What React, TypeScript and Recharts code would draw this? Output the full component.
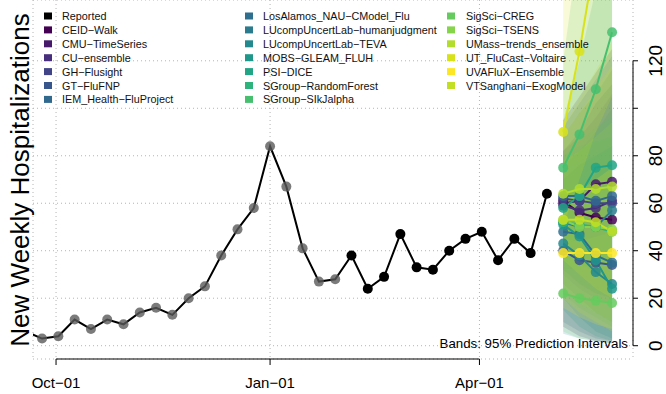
import React from "react";
import {
  ComposedChart,
  Line,
  Area,
  Scatter,
  XAxis,
  YAxis,
  CartesianGrid,
  ReferenceLine,
} from "recharts";

// reported weekly counts (first week sits left of the plot and is clipped)
const obsDates = [
  "2022-09-18", "2022-09-25", "2022-10-02", "2022-10-09", "2022-10-16", "2022-10-23",
  "2022-10-30", "2022-11-06", "2022-11-13", "2022-11-20", "2022-11-27", "2022-12-04",
  "2022-12-11", "2022-12-18", "2022-12-25", "2023-01-01", "2023-01-08", "2023-01-15",
  "2023-01-22", "2023-01-29", "2023-02-05", "2023-02-12", "2023-02-19", "2023-02-26",
  "2023-03-05", "2023-03-12", "2023-03-19", "2023-03-26", "2023-04-02", "2023-04-09",
  "2023-04-16", "2023-04-23", "2023-04-30",
];
const obsValues = [
  6, 3, 4, 11, 7, 11, 9, 14, 16, 13, 20, 25, 38, 49, 58, 84, 67, 41, 27, 28, 38, 24,
  29, 47, 33, 32, 40, 45, 48, 36, 45, 39, 64,
];
const firstBlack = 20; // earlier points are drawn grey

const forecastDates = ["2023-05-07", "2023-05-14", "2023-05-21", "2023-05-28"];

const models = [
  "CEID-Walk", "CMU-TimeSeries", "CU-ensemble", "GH-Flusight", "GT-FluFNP",
  "IEM_Health-FluProject", "LosAlamos_NAU-CModel_Flu", "LUcompUncertLab-humanjudgment",
  "LUcompUncertLab-TEVA", "MOBS-GLEAM_FLUH", "PSI-DICE", "SGroup-RandomForest",
  "SGroup-SIkJalpha", "SigSci-CREG", "SigSci-TSENS", "UMass-trends_ensemble",
  "UT_FluCast-Voltaire", "UVAFluX-Ensemble", "VTSanghani-ExogModel",
];
const modelColors = [
  "#440154", "#481a6c", "#472f7d", "#414487", "#39568c", "#31688e", "#2e6e8e",
  "#2a7b8e", "#23898e", "#1f978b", "#21a585", "#2eb37c", "#46c06f", "#65cb5e",
  "#85d44a", "#b2dd2c", "#d8e219", "#fde725", "#c2df23",
];
const medians = [
  [61, 56, 54, 53], [60, 61, 68, 69], [59, 57, 58, 61], [62, 61, 60, 60],
  [40, 36, 35, 34], [63, 63, 61, 63], [48, 47, 38, 35], [52, 50, 50, 57],
  [43, 38, 31, 26], [51, 46, 36, 24], [58, 63, 75, 76], [52, 51, 50, 48],
  [75, 89, 108, 132], [22, 20, 19, 18], [53, 50, 50, 49], [64, 66, 66, 67],
  [90, 124, 165, 205], [39, 39, 39, 39], [53, 53, 52, 48],
];
const lower95 = [
  [8, 4, 2, 1], [40, 36, 38, 36], [30, 24, 20, 18], [26, 20, 14, 10],
  [10, 6, 3, 2], [40, 35, 30, 26], [20, 12, 6, 3], [32, 26, 22, 20],
  [5, 3, 2, 1], [15, 8, 4, 2], [32, 32, 36, 34], [22, 16, 12, 8],
  [42, 46, 55, 65], [6, 3, 2, 1], [24, 18, 14, 10], [36, 30, 24, 20],
  [50, 70, 90, 105], [16, 12, 9, 7], [20, 14, 10, 6],
];
const upper95 = [
  [95, 105, 115, 125], [82, 90, 102, 110], [82, 88, 96, 106], [92, 102, 112, 122],
  [62, 66, 72, 78], [88, 98, 106, 116], [70, 76, 80, 84], [76, 82, 90, 100],
  [74, 78, 80, 84], [80, 84, 86, 88], [95, 120, 150, 175], [80, 86, 92, 96],
  [120, 170, 220, 280], [45, 44, 46, 48], [78, 82, 88, 94], [92, 104, 116, 128],
  [175, 260, 340, 420], [60, 65, 70, 75], [88, 98, 108, 118],
];

const xTickDates = ["2022-10-01", "2023-01-01", "2023-04-01"];
const xTickLabels = ["Oct\u221201", "Jan\u221201", "Apr\u221201"];
const yTicks = [0, 20, 40, 60, 80, 100, 120];
const yTickLabels = ["0", "20", "40", "60", "80", "", "120"];

const day = (s: string) => Date.parse(s + "T00:00:00Z") / 86400000;

const X_MIN = day("2022-10-01") - 9.9;
const X_MAX = day("2022-10-01") + 248;
const Y_MIN = -5.6;
const Y_MAX = 145.6;

const FONT = "'Liberation Sans', Arial, sans-serif";

const obsData = obsDates.map((d, i) => ({ x: day(d), y: obsValues[i] }));
const greyPts = obsData.slice(1, firstBlack);
const blackPts = obsData.slice(firstBlack);

function modelData(m: number) {
  return forecastDates.map((d, i) => ({
    x: day(d),
    y: medians[m][i],
    band: [lower95[m][i], upper95[m][i]],
  }));
}

const legendItems = [{ name: "Reported", color: "#000" }].concat(
  models.map((name, i) => ({ name, color: modelColors[i] }))
);
const legendCols = [
  { sq: 44, tx: 62, items: legendItems.slice(0, 7) },
  { sq: 245, tx: 263, items: legendItems.slice(7, 14) },
  { sq: 447, tx: 466, items: legendItems.slice(14) },
];

const XTick = (p: any) => {
  const i = xTickDates.findIndex((d) => day(d) === p.payload.value);
  return (
    <text x={p.x} y={p.y + 23} textAnchor="middle" fontSize={15} fill="#000" fontFamily={FONT}>
      {xTickLabels[i]}
    </text>
  );
};

const YTick = (p: any) => {
  const tx = p.x + 24.5;
  const label = yTickLabels[yTicks.indexOf(p.payload.value)];
  return (
    <text
      x={tx}
      y={p.y}
      textAnchor="middle"
      fontSize={19}
      fill="#000"
      fontFamily={FONT}
      transform={`rotate(-90 ${tx} ${p.y})`}
    >
      {label}
    </text>
  );
};

export default function App() {
  return (
    <div style={{ position: "absolute", left: 0, top: 0, width: 666, height: 394 }}>
      <ComposedChart
        width={666}
        height={394}
        margin={{ top: 0, right: 0, bottom: 0, left: 33 }}
      >
        <CartesianGrid strokeDasharray="1 3" stroke="#b4b4b4" />
        <XAxis
          type="number"
          dataKey="x"
          domain={[X_MIN, X_MAX]}
          allowDataOverflow
          ticks={xTickDates.map(day)}
          height={35}
          axisLine={false}
          stroke="#000"
          tickLine={{ stroke: "#000" }}
          tickSize={6}
          tickMargin={0}
          tick={XTick}
        />
        <YAxis
          type="number"
          orientation="right"
          domain={[Y_MIN, Y_MAX]}
          allowDataOverflow
          ticks={yTicks}
          width={33}
          axisLine={false}
          stroke="#000"
          tickLine={{ stroke: "#000" }}
          tickSize={5}
          tickMargin={0}
          tick={YTick}
        />
        <ReferenceLine
          segment={[
            { x: day(xTickDates[0]), y: Y_MIN },
            { x: day(xTickDates[2]), y: Y_MIN },
          ]}
          stroke="#000"
          ifOverflow="visible"
        />
        <ReferenceLine
          segment={[
            { x: X_MAX, y: yTicks[0] },
            { x: X_MAX, y: yTicks[yTicks.length - 1] },
          ]}
          stroke="#000"
          ifOverflow="visible"
        />
        {models.map((m, i) => (
          <Area
            key={"band-" + m}
            data={modelData(i)}
            dataKey="band"
            type="linear"
            stroke="none"
            fill={modelColors[i]}
            fillOpacity={0.17}
            isAnimationActive={false}
          />
        ))}
        <Scatter
          data={greyPts}
          dataKey="y"
          isAnimationActive={false}
          shape={(p: any) => <circle cx={p.cx} cy={p.cy} r={5} fill="#5a5a5a" fillOpacity={0.8} />}
        />
        <Line
          data={obsData}
          dataKey="y"
          type="linear"
          stroke="#000"
          strokeWidth={2}
          dot={false}
          isAnimationActive={false}
        />
        <Scatter
          data={blackPts}
          dataKey="y"
          isAnimationActive={false}
          shape={(p: any) => <circle cx={p.cx} cy={p.cy} r={5} fill="#000" />}
        />
        {models.map((m, i) => (
          <Line
            key={"med-" + m}
            data={modelData(i)}
            dataKey="y"
            type="linear"
            stroke={modelColors[i]}
            strokeWidth={2}
            dot={{ r: 5, fill: modelColors[i], stroke: "none", fillOpacity: 0.85 }}
            isAnimationActive={false}
          />
        ))}
      </ComposedChart>
      <svg
        width={666}
        height={394}
        style={{ position: "absolute", left: 0, top: 0, pointerEvents: "none" }}
      >
        <text
          x={28.6}
          y={180}
          textAnchor="middle"
          fontSize={26}
          fontFamily={FONT}
          fill="#000"
          transform="rotate(-90 28.6 180)"
        >
          New Weekly Hospitalizations
        </text>
        {legendCols.map((col, c) =>
          col.items.map((it, r) => {
            const cy = 16 + r * 13.9;
            return (
              <g key={c + "-" + r}>
                <rect x={col.sq} y={cy - 3.5} width={8} height={7} fill={it.color} />
                <text x={col.tx} y={cy + 4} fontSize={10.8} fontFamily={FONT} fill="#111">
                  {it.name.replace(/-/g, "\u2212")}
                </text>
              </g>
            );
          })
        )}
        <text x={628} y={348} textAnchor="end" fontSize={13.3} fontFamily={FONT} fill="#000">
          Bands: 95% Prediction Intervals
        </text>
      </svg>
    </div>
  );
}
